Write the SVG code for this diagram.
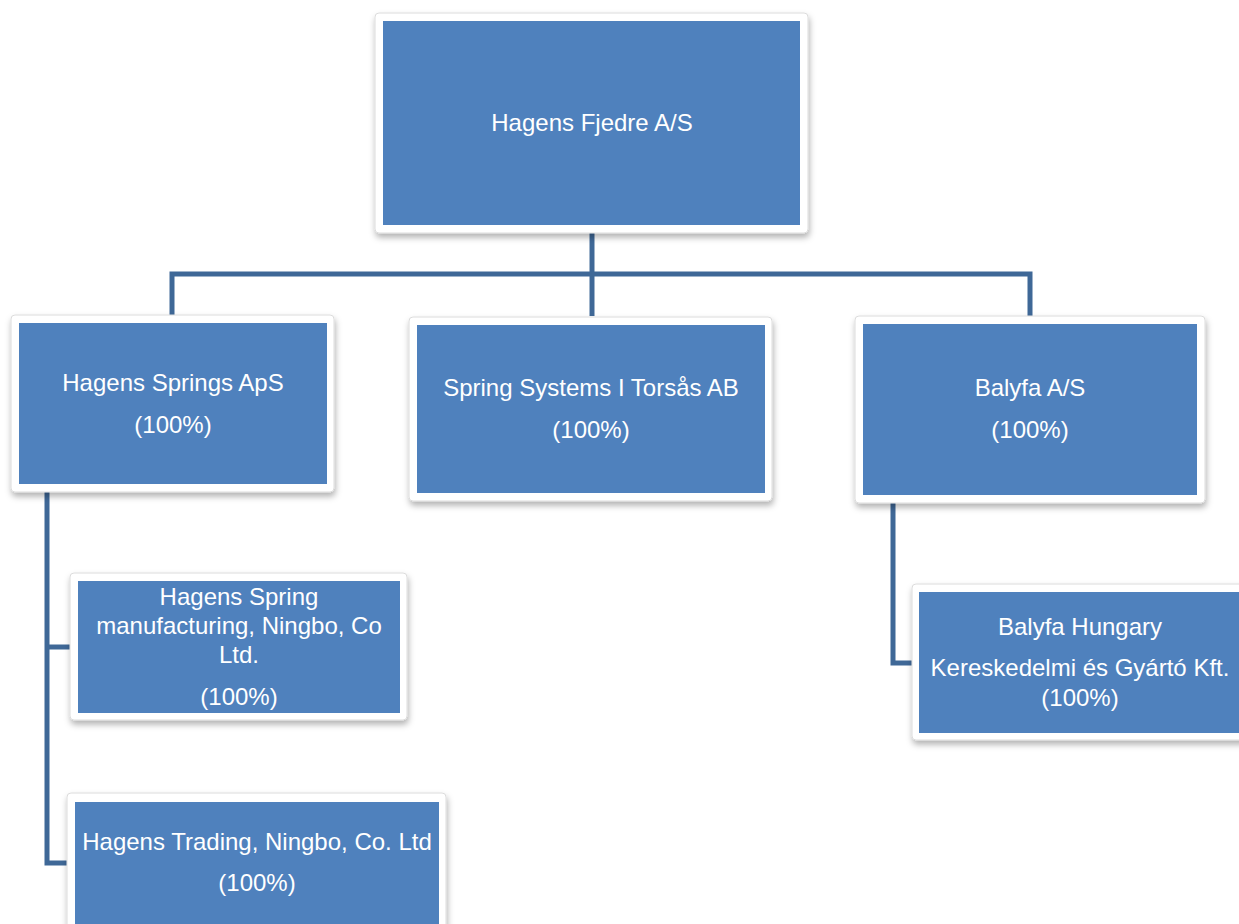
<svg xmlns="http://www.w3.org/2000/svg" width="1239" height="924" viewBox="0 0 1239 924">
<style>
.frame{fill:#ffffff;stroke:#dcdcdc;stroke-width:1;filter:url(#sh)}
.box{fill:#4F81BD}
.t{font-family:"Liberation Sans",Arial,sans-serif;font-size:24px;fill:#ffffff;text-anchor:middle}
.c{fill:none;stroke:#3F6897;stroke-width:5;stroke-linejoin:miter}
</style>
<defs>
<filter id="sh" x="-10%" y="-10%" width="130%" height="130%">
<feDropShadow dx="1" dy="4" stdDeviation="3" flood-color="#000" flood-opacity="0.3"/>
</filter>
</defs>
<rect width="1239" height="924" fill="#ffffff"/>
<g id="connectors">
<path class="c" d="M592 233 V316"/>
<path class="c" d="M172 316 V274 H1030 V316"/>
<path class="c" d="M47 492 V863 H67"/>
<path class="c" d="M47 647 H70"/>
<path class="c" d="M893 503 V663 H912"/>
</g>
<g id="n1">
<rect class="frame" x="375" y="13" width="433" height="220" rx="4"/>
<rect class="box" x="383" y="21" width="417" height="204"/>
<text class="t" x="592" y="131">Hagens Fjedre A/S</text>
</g>
<g id="n2">
<rect class="frame" x="11" y="315" width="323" height="177" rx="4"/>
<rect class="box" x="19" y="323" width="308" height="161"/>
<text class="t" x="173" y="391">Hagens Springs ApS</text>
<text class="t" x="173" y="433">(100%)</text>
</g>
<g id="n3">
<rect class="frame" x="409" y="317" width="363" height="184" rx="4"/>
<rect class="box" x="417" y="325" width="348" height="168"/>
<text class="t" x="591" y="396">Spring Systems I Torsås AB</text>
<text class="t" x="591" y="438">(100%)</text>
</g>
<g id="n4">
<rect class="frame" x="855" y="316" width="350" height="187" rx="4"/>
<rect class="box" x="863" y="324" width="334" height="171"/>
<text class="t" x="1030" y="396">Balyfa A/S</text>
<text class="t" x="1030" y="438">(100%)</text>
</g>
<g id="n5">
<rect class="frame" x="70" y="573" width="337" height="147" rx="4"/>
<rect class="box" x="78" y="581" width="322" height="132"/>
<text class="t" x="239" y="605">Hagens Spring</text>
<text class="t" x="239" y="634">manufacturing, Ningbo, Co</text>
<text class="t" x="239" y="663">Ltd.</text>
<text class="t" x="239" y="705">(100%)</text>
</g>
<g id="n6">
<rect class="frame" x="67" y="793" width="379" height="140" rx="4"/>
<rect class="box" x="75" y="802" width="364" height="130"/>
<text class="t" x="257" y="850">Hagens Trading, Ningbo, Co. Ltd</text>
<text class="t" x="257" y="891">(100%)</text>
</g>
<g id="n7">
<rect class="frame" x="912" y="584" width="340" height="156" rx="4"/>
<rect class="box" x="919" y="592" width="330" height="141"/>
<text class="t" x="1080" y="635">Balyfa Hungary</text>
<text class="t" x="1080" y="676">Kereskedelmi és Gyártó Kft.</text>
<text class="t" x="1080" y="706">(100%)</text>
</g>
</svg>
